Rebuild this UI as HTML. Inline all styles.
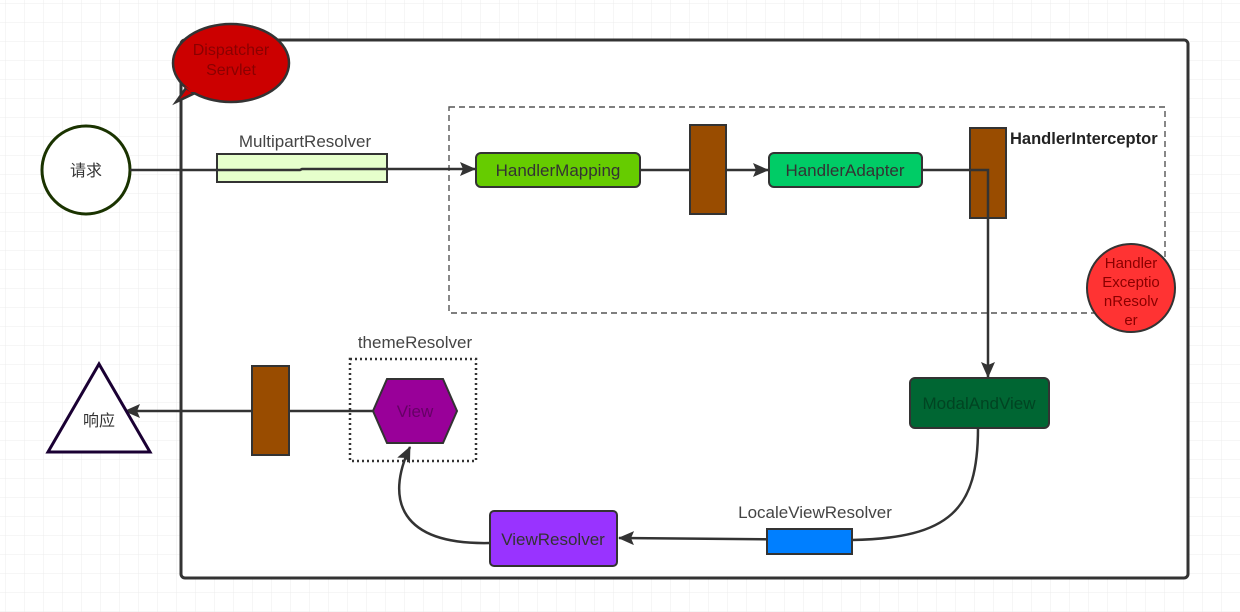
<!DOCTYPE html>
<html><head><meta charset="utf-8"><style>
html,body{margin:0;padding:0;background:#fff}
svg{display:block}
text{font-family:"Liberation Sans","Noto Sans CJK SC",sans-serif}
</style></head><body>
<svg width="1240" height="612" xmlns="http://www.w3.org/2000/svg">
<defs>
<pattern id="g" width="19" height="19" patternUnits="userSpaceOnUse" x="6" y="4">
<path d="M19 0V19H0" fill="none" stroke="#ececec" stroke-width="1"/>
</pattern>
<marker id="b" markerWidth="16" markerHeight="14" refX="15" refY="7" orient="auto" markerUnits="userSpaceOnUse" viewBox="0 0 16 14">
<path d="M0,0 L16,7 L0,14 L3,7 Z" fill="#333"/>
</marker>
</defs>
<rect width="1240" height="612" fill="url(#g)"/>
<rect x="181" y="40" width="1007" height="538" rx="4" fill="#fff" stroke="#333" stroke-width="3"/>
<rect x="449" y="107" width="716" height="206" fill="none" stroke="#555" stroke-width="1.4" stroke-dasharray="6,4"/>

<path d="M186,88 L176,102 L195,93 Z" fill="#cc0000" stroke="#333" stroke-width="2.5"/>
<ellipse cx="231" cy="63" rx="58" ry="39" fill="#cc0000" stroke="#333" stroke-width="2.5"/>
<path d="M184,86 L190,92 L196,92" fill="#cc0000"/>
<text x="231" y="55" font-size="16" fill="#8a0000" text-anchor="middle">Dispatcher</text>
<text x="231" y="75" font-size="16" fill="#8a0000" text-anchor="middle">Servlet</text>

<circle cx="86" cy="170" r="44" fill="#fff" stroke="#1a3300" stroke-width="3"/>
<text x="86" y="176" font-size="16" fill="#333" text-anchor="middle">请求</text>

<rect x="217" y="154" width="170" height="28" fill="#e6ffcc" stroke="#333" stroke-width="2"/>
<text x="305" y="147" font-size="17" fill="#444" text-anchor="middle">MultipartResolver</text>
<path d="M130,170 H300 L302,169 H475" fill="none" stroke="#333" stroke-width="2.5" marker-end="url(#b)"/>

<rect x="476" y="153" width="164" height="34" rx="5" fill="#66cc00" stroke="#333" stroke-width="2"/>
<text x="558" y="176" font-size="17" fill="#333" text-anchor="middle">HandlerMapping</text>
<line x1="640" y1="170" x2="768" y2="170" stroke="#333" stroke-width="2.5" marker-end="url(#b)"/>
<rect x="690" y="125" width="36" height="89" fill="#994c00" stroke="#333" stroke-width="2"/>

<rect x="769" y="153" width="153" height="34" rx="5" fill="#00cc66" stroke="#333" stroke-width="2"/>
<text x="845" y="176" font-size="17" fill="#333" text-anchor="middle">HandlerAdapter</text>
<rect x="970" y="128" width="36" height="90" fill="#994c00" stroke="#333" stroke-width="2"/>
<path d="M922,170 H988 V377" fill="none" stroke="#333" stroke-width="2.5" marker-end="url(#b)"/>
<text x="1010" y="144" font-size="16.5" font-weight="bold" fill="#222">HandlerInterceptor</text>

<circle cx="1131" cy="288" r="44" fill="#ff3333" stroke="#333" stroke-width="2"/>
<text font-size="15" fill="#8a0000" text-anchor="middle"><tspan x="1131" y="268">Handler</tspan><tspan x="1131" y="287">Exceptio</tspan><tspan x="1131" y="306">nResolv</tspan><tspan x="1131" y="325">er</tspan></text>

<rect x="910" y="378" width="139" height="50" rx="5" fill="#006633" stroke="#333" stroke-width="2"/>
<text x="979" y="409" font-size="17" fill="#004422" text-anchor="middle">ModalAndView</text>

<path d="M978,428 C978,510 950,538 852,540 L619,538" fill="none" stroke="#333" stroke-width="2.5" marker-end="url(#b)"/>
<rect x="767" y="529" width="85" height="25" fill="#007fff" stroke="#333" stroke-width="2"/>
<text x="815" y="518" font-size="17" fill="#444" text-anchor="middle">LocaleViewResolver</text>

<rect x="490" y="511" width="127" height="55" rx="4" fill="#9933ff" stroke="#333" stroke-width="2"/>
<text x="553" y="545" font-size="17" fill="#333" text-anchor="middle">ViewResolver</text>
<path d="M490,543 C400,545 385,500 410,447" fill="none" stroke="#333" stroke-width="2.5" marker-end="url(#b)"/>

<rect x="350" y="359" width="126" height="102" fill="none" stroke="#333" stroke-width="2.5" stroke-dasharray="2,3"/>
<text x="415" y="348" font-size="17" fill="#444" text-anchor="middle">themeResolver</text>
<polygon points="373,411 387,379 443,379 457,411 443,443 387,443" fill="#990099" stroke="#333" stroke-width="2"/>
<text x="415" y="417" font-size="17" fill="#660066" text-anchor="middle">View</text>

<line x1="373" y1="411" x2="125" y2="411" stroke="#333" stroke-width="2.5" marker-end="url(#b)"/>
<rect x="252" y="366" width="37" height="89" fill="#994c00" stroke="#333" stroke-width="2"/>

<polygon points="99,364 150,452 48,452" fill="#fff" stroke="#1a0033" stroke-width="3"/>
<text x="99" y="426" font-size="16" fill="#333" text-anchor="middle">响应</text>
</svg>
</body></html>
